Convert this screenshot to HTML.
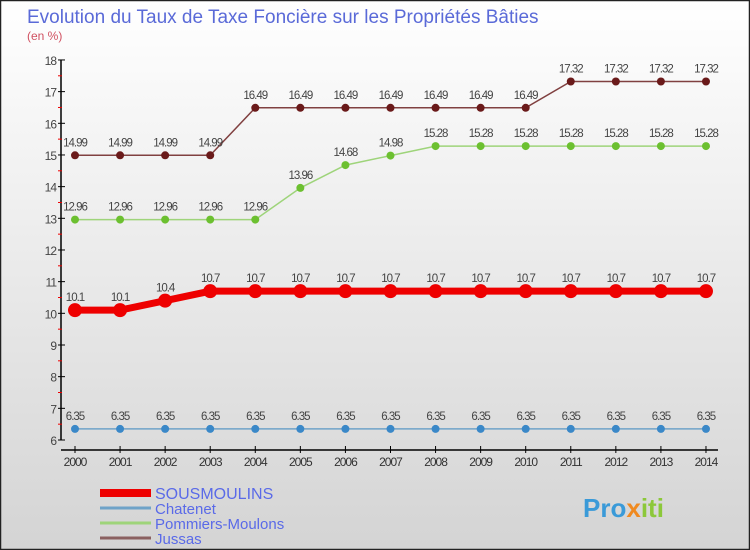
<!DOCTYPE html>
<html><head><meta charset="utf-8"><style>
body{margin:0}
#c{width:750px;height:550px;position:relative;overflow:hidden;font-family:"Liberation Sans",sans-serif;}
</style></head><body>
<div id="c">
<svg id="s" width="750" height="550" xmlns="http://www.w3.org/2000/svg">
<defs><linearGradient id="bg" x1="0" y1="0" x2="0" y2="1"><stop offset="0" stop-color="#ffffff"/><stop offset="1" stop-color="#d4d4d4"/></linearGradient></defs>
<rect x="0.5" y="0.5" width="749" height="549" fill="url(#bg)" stroke="#222" stroke-width="1.5"/>
<text x="27" y="23" font-size="19" fill="#5a6ad8">Evolution du Taux de Taxe Foncière sur les Propriétés Bâties</text>
<text x="27" y="40" font-size="12" fill="#d05060">(en %)</text>
<g id="axes"></g><g id="series"></g>
<g>
<line x1="100" y1="493" x2="151" y2="493" stroke="#e00" stroke-width="8"/>
<text x="155" y="499" font-size="16" fill="#5a6ae8">SOUSMOULINS</text>
<line x1="100" y1="508" x2="151" y2="508" stroke="#6fa3c8" stroke-width="3"/>
<text x="155" y="514" font-size="15" fill="#5a6ae8">Chatenet</text>
<line x1="100" y1="523" x2="151" y2="523" stroke="#9ed47a" stroke-width="3"/>
<text x="155" y="529" font-size="15" fill="#5a6ae8">Pommiers-Moulons</text>
<line x1="100" y1="538" x2="151" y2="538" stroke="#8a6060" stroke-width="3"/>
<text x="155" y="544" font-size="15" fill="#5a6ae8">Jussas</text>
</g>
<text x="583" y="517" font-size="26" font-weight="bold" fill="#3a9ad8">Pro<tspan fill="#f08a20">x</tspan><tspan fill="#8cc83a">iti</tspan></text>
</svg>
</div>
<script>
const years=[2000,2001,2002,2003,2004,2005,2006,2007,2008,2009,2010,2011,2012,2013,2014];
const yTicks=[6,7,8,9,10,11,12,13,14,15,16,17,18];
const sousmoulins=[10.1,10.1,10.4,10.7,10.7,10.7,10.7,10.7,10.7,10.7,10.7,10.7,10.7,10.7,10.7];
const chatenet=[6.35,6.35,6.35,6.35,6.35,6.35,6.35,6.35,6.35,6.35,6.35,6.35,6.35,6.35,6.35];
const pommiers=[12.96,12.96,12.96,12.96,12.96,13.96,14.68,14.98,15.28,15.28,15.28,15.28,15.28,15.28,15.28];
const jussas=[14.99,14.99,14.99,14.99,16.49,16.49,16.49,16.49,16.49,16.49,16.49,17.32,17.32,17.32,17.32];
const NS="http://www.w3.org/2000/svg";
const xs=i=>75+i*45.07;
const ys=v=>440-(v-6)*31.67;
function mk(t,a,p){const e=document.createElementNS(NS,t);for(const k in a)e.setAttribute(k,a[k]);p.appendChild(e);return e;}
const ax=document.getElementById('axes');
const yl=mk('line',{x1:61,y1:ys(18),x2:61,y2:ys(6),stroke:'#000','stroke-width':1.5},ax);


yTicks.forEach(v=>{
 mk('line',{x1:58,y1:ys(v),x2:65,y2:ys(v),stroke:'#000'},ax);
 if(v<18) mk('line',{x1:58,y1:ys(v+0.5),x2:62,y2:ys(v+0.5),stroke:'#e00'},ax);
 const t=mk('text',{x:56,y:ys(v)+5,'font-size':12,fill:'#444','text-anchor':'end','letter-spacing':'-1'},ax);t.textContent=v;
 
 
});
const xl=mk('line',{x1:61,y1:450,x2:718,y2:450,stroke:'#000','stroke-width':1.5},ax);


years.forEach((y,i)=>{
 mk('line',{x1:xs(i),y1:446,x2:xs(i),y2:453,stroke:'#000'},ax);
 const t=mk('text',{x:xs(i),y:466,'font-size':12,fill:'#333','text-anchor':'middle','letter-spacing':'-1'},ax);t.textContent=y;
 
 
});
const sg=document.getElementById('series');
function series(data,name,line,dot,w,r,fmt){
 const g=mk('g',{},sg);
 
 
 mk('polyline',{points:data.map((v,i)=>xs(i)+','+ys(v)).join(' '),fill:'none',stroke:line,'stroke-width':w},g);
 data.forEach((v,i)=>{
  const c=mk('circle',{cx:xs(i),cy:ys(v),r:r,fill:dot},g);
  
  
  const t=mk('text',{x:xs(i),y:ys(v)-9,'font-size':11.5,fill:'#444','text-anchor':'middle','letter-spacing':'-1'},g);t.textContent=String(v);
  
  
 });
}
series(chatenet,'chatenet','#6fa3c8','#3a88c8',1.5,4,'');
series(pommiers,'pommiers-moulons','#9ed47a','#6cc030',1.5,4,'');
series(jussas,'jussas','#804040','#6a1a1a',1.5,4,'');
series(sousmoulins,'sousmoulins','#e00','#e00',7,7,'');
</script>
</body></html>
